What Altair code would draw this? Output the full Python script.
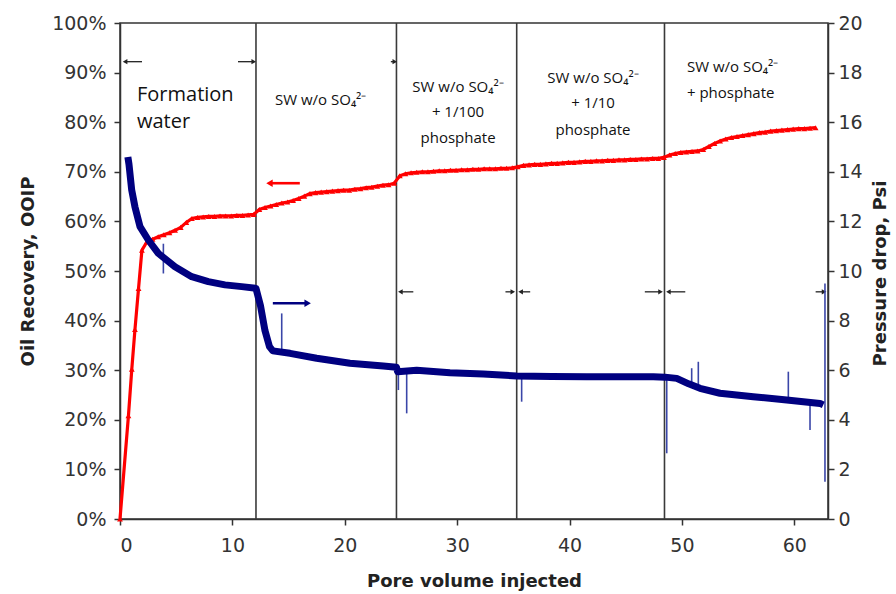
import altair as alt
import pandas as pd

# ---------------- data ----------------
# Oil recovery (fraction of OOIP) vs pore volume injected
rec_pv = [0, 0.75, 1.05, 1.33, 1.65, 1.95, 2.4, 2.9, 3.4, 3.9, 4.4, 4.9, 5.4, 5.9, 6.4, 6.9,
          7.4, 7.9, 8.4, 8.9, 9.4, 9.9, 10.4, 10.9, 11.4, 11.9, 12.4, 12.9, 13.4, 13.9, 14.4,
          14.9, 15.4, 15.9, 16.4, 16.9, 17.4, 17.9, 18.4, 18.9, 19.4, 19.9, 20.4, 20.9, 21.4,
          21.9, 22.4, 22.9, 23.4, 23.9, 24.4, 24.9, 25.4, 25.9, 26.4, 26.9, 27.4, 27.9, 28.4,
          28.9, 29.4, 29.9, 30.4, 30.9, 31.4, 31.9, 32.4, 32.9, 33.4, 33.9, 34.4, 34.9, 35.4,
          35.9, 36.4, 36.9, 37.4, 37.9, 38.4, 38.9, 39.4, 39.9, 40.4, 40.9, 41.4, 41.9, 42.4,
          42.9, 43.4, 43.9, 44.4, 44.9, 45.4, 45.9, 46.4, 46.9, 47.4, 47.9, 48.4, 48.9, 49.4,
          49.9, 50.4, 50.9, 51.4, 51.9, 52.4, 52.9, 53.4, 53.9, 54.4, 54.9, 55.4, 55.9, 56.4,
          56.9, 57.4, 57.9, 58.4, 58.9, 59.4, 59.9, 60.4, 60.9, 61.4, 61.9]
rec_frac = [0, .208, .302, .382, .465, .542, .559, .564, .569, .573, .577, .582, .588, .598, .606, .608,
            .609, .610, .610, .611, .611, .611, .612, .612, .613, .614, .624, .628, .631, .634, .637,
            .639, .642, .646, .651, .656, .658, .659, .660, .661, .662, .663, .663, .665, .666,
            .668, .669, .671, .673, .674, .677, .692, .696, .698, .699, .700, .700, .701, .702,
            .702, .703, .703, .704, .704, .705, .705, .706, .706, .706, .707, .707, .708, .710,
            .713, .714, .715, .715, .716, .717, .717, .718, .719, .719, .720, .721, .721, .722,
            .722, .723, .723, .724, .724, .725, .725, .726, .726, .727, .727, .729, .734, .737,
            .739, .740, .741, .742, .745, .751, .757, .762, .766, .769, .771, .773, .775, .777,
            .779, .780, .782, .783, .784, .785, .786, .787, .787, .788, .789]

# Pressure drop (psi) vs pore volume injected
dp_pv = [0.7, 0.8, 1.04, 1.33, 1.78, 2.52, 3.41, 4.89, 6.38, 7.86, 9.34, 10.83, 12.1, 12.5, 12.9,
         13.3, 13.6, 15.13, 17.5, 20.46, 23.43, 24.6, 24.7, 26.4, 29.36, 32.33, 35.3, 38.4,
         41.53, 44.5, 47.46, 48.5, 49.54, 50.6, 51.61, 53.39, 56.35, 59.33, 62.29, 62.58]
dp_psi = [14.6, 14.3, 13.27, 12.59, 11.79, 11.25, 10.71, 10.17, 9.77, 9.57, 9.44, 9.37, 9.3, 8.6, 7.6,
          6.95, 6.78, 6.68, 6.48, 6.28, 6.17, 6.12, 5.94, 6.0, 5.9, 5.85, 5.77, 5.75,
          5.74, 5.74, 5.74, 5.72, 5.67, 5.45, 5.27, 5.07, 4.93, 4.8, 4.66, 4.6]

# short excursions of the pressure trace
spike_pv = [3.86, 3.86, 14.39, 24.77, 25.51, 35.74, 48.65, 50.87, 51.46, 59.47, 61.4, 62.73, 62.73]
spike_base = [10.55, 10.55, 6.8, 5.95, 6.0, 5.77, 5.72, 5.5, 5.3, 4.8, 4.72, 4.6, 4.6]
spike_tip = [11.1, 9.9, 8.29, 5.2, 4.26, 4.73, 2.65, 6.08, 6.34, 5.94, 3.59, 9.5, 1.5]

# injection-phase boundaries (PV)
bound_pv = [12.1, 24.6, 35.3, 48.45]

# phase annotation texts
form_text = ["Formation", "water"]
form_pv = [1.51, 1.51]
form_frac = [0.855, 0.800]

left_text = ["SW w/o SO₄²⁻", "SW w/o SO₄²⁻", "+ phosphate"]
left_pv = [13.79, 50.45, 50.45]
left_frac = [0.845, 0.911, 0.859]

mid_text = ["SW w/o SO₄²⁻", "+ 1/100", "phosphate", "SW w/o SO₄²⁻", "+ 1/10", "phosphate"]
mid_pv = [30.08, 30.08, 30.08, 42.09, 42.09, 42.09]
mid_frac = [0.871, 0.821, 0.768, 0.889, 0.839, 0.784]

# phase-span arrows (black): shafts and heads
shaft_x1 = [0.45, 10.5, 24.1, 24.95, 34.3, 35.65, 46.7, 48.8, 61.9]
shaft_x2 = [1.96, 11.9, 24.45, 26.1, 34.95, 36.5, 48.1, 50.3, 62.65]
shaft_y = [0.922, 0.922, 0.922, 0.458, 0.458, 0.458, 0.458, 0.458, 0.458]
headL_pv = [0.45, 24.95, 35.65, 48.8]
headL_y = [0.922, 0.458, 0.458, 0.458]
headR_pv = [11.9, 24.45, 34.95, 48.1, 62.65]
headR_y = [0.922, 0.922, 0.458, 0.458, 0.458]

# series-to-axis arrows
red_arrow = {"x1": 13.5, "x2": 16.0, "y": 0.677, "head": 13.3}
blue_arrow = {"x1": 13.6, "x2": 16.5, "y": 0.435, "head": 16.7}

# ---------------- chart ----------------
XMAX = 63
x_scale = alt.Scale(domain=[0, XMAX], nice=False, zero=False)
yl_scale = alt.Scale(domain=[0, 1], nice=False)
yr_scale = alt.Scale(domain=[0, 20], nice=False)

x_axis = alt.Axis(values=[0, 10, 20, 30, 40, 50, 60], title="Pore volume injected",
                  labelPadding=11, titleY=62, titleBaseline="middle")
yl_axis = alt.Axis(values=[i / 10 for i in range(11)], format=".0%", orient="left",
                   title="Oil Recovery, OOIP", labelPadding=8,
                   titleAngle=270, titleX=-92, titleY=248, titleAlign="center",
                   titleBaseline="middle")
yr_axis = alt.Axis(values=list(range(0, 21, 2)), orient="right",
                   title="Pressure drop, Psi", labelPadding=4,
                   titleAngle=270, titleX=52, titleY=250, titleAlign="center",
                   titleBaseline="middle")


def X(field="pv"):
    return alt.X(f"{field}:Q", scale=x_scale, axis=x_axis)


def YL(field="y"):
    return alt.Y(f"{field}:Q", scale=yl_scale, axis=yl_axis)


def YR(field="y"):
    return alt.Y(f"{field}:Q", scale=yr_scale, axis=yr_axis)


rec_df = pd.DataFrame({"pv": rec_pv, "y": rec_frac})
dp_df = pd.DataFrame({"pv": dp_pv, "y": dp_psi})
spike_df = pd.DataFrame({"pv": spike_pv, "y": spike_base, "y2": spike_tip})
bound_df = pd.DataFrame({"pv": bound_pv})

bounds = alt.Chart(bound_df).mark_rule(color="#3a3a3a", strokeWidth=1.6).encode(x=X())

red_line = alt.Chart(rec_df).mark_line(color="#ff0000", strokeWidth=3.2).encode(x=X(), y=YL())
red_pts = alt.Chart(rec_df).mark_point(shape="triangle-up", filled=True, size=34,
                                       color="#ff0000", opacity=1).encode(x=X(), y=YL())

shafts = alt.Chart(pd.DataFrame({"pv": shaft_x1, "pv2": shaft_x2, "y": shaft_y})).mark_rule(
    color="#222", strokeWidth=1.3).encode(x=X(), x2="pv2:Q", y=YL())
headsL = alt.Chart(pd.DataFrame({"pv": headL_pv, "y": headL_y})).mark_point(
    shape="triangle-left", filled=True, size=28, color="#222", opacity=1).encode(x=X(), y=YL())
headsR = alt.Chart(pd.DataFrame({"pv": headR_pv, "y": headR_y})).mark_point(
    shape="triangle-right", filled=True, size=28, color="#222", opacity=1).encode(x=X(), y=YL())

ra = alt.Chart(pd.DataFrame({"pv": [red_arrow["x1"]], "pv2": [red_arrow["x2"]], "y": [red_arrow["y"]]})).mark_rule(
    color="#ff0000", strokeWidth=2.6).encode(x=X(), x2="pv2:Q", y=YL())
ra_head = alt.Chart(pd.DataFrame({"pv": [red_arrow["head"]], "y": [red_arrow["y"]]})).mark_point(
    shape="triangle-left", filled=True, size=55, color="#ff0000", opacity=1).encode(x=X(), y=YL())
ba = alt.Chart(pd.DataFrame({"pv": [blue_arrow["x1"]], "pv2": [blue_arrow["x2"]], "y": [blue_arrow["y"]]})).mark_rule(
    color="#000080", strokeWidth=2.6).encode(x=X(), x2="pv2:Q", y=YL())
ba_head = alt.Chart(pd.DataFrame({"pv": [blue_arrow["head"]], "y": [blue_arrow["y"]]})).mark_point(
    shape="triangle-right", filled=True, size=55, color="#000080", opacity=1).encode(x=X(), y=YL())

txt_form = alt.Chart(pd.DataFrame({"pv": form_pv, "y": form_frac, "t": form_text})).mark_text(
    align="left", baseline="middle", font="Open Sans", fontSize=20, color="#111").encode(
    x=X(), y=YL(), text="t:N")
txt_left = alt.Chart(pd.DataFrame({"pv": left_pv, "y": left_frac, "t": left_text})).mark_text(
    align="left", baseline="middle", font="Open Sans", fontSize=15, color="#111").encode(
    x=X(), y=YL(), text="t:N")
txt_mid = alt.Chart(pd.DataFrame({"pv": mid_pv, "y": mid_frac, "t": mid_text})).mark_text(
    align="center", baseline="middle", font="Open Sans", fontSize=15, color="#111").encode(
    x=X(), y=YL(), text="t:N")

left = alt.layer(bounds, red_line, red_pts, shafts, headsL, headsR, ra, ra_head, ba, ba_head,
                 txt_form, txt_left, txt_mid)

blue_line = alt.Chart(dp_df).mark_line(color="#000080", strokeWidth=7, strokeJoin="round").encode(
    x=X(), y=YR())
spikes = alt.Chart(spike_df).mark_rule(color="#3a46a8", strokeWidth=1.6).encode(
    x=X(), y=YR(), y2="y2:Q")

right = alt.layer(spikes, blue_line)

chart = alt.layer(left, right).resolve_scale(y="independent").properties(
    width=708, height=496,
    autosize=alt.AutoSizeParams(type="none"),
    padding={"left": 120, "top": 23, "right": 68, "bottom": 75},
    background="white",
).configure_axis(
    labelFont="DejaVu Sans", labelFontSize=19, labelColor="#333",
    titleFont="DejaVu Sans", titleFontWeight="bold", titleFontSize=18, titleColor="#222",
    domainColor="#333", domainWidth=1.5, tickColor="#333", tickWidth=1.5, tickSize=6,
    grid=False,
).configure_view(stroke="#333", strokeWidth=1.5)

chart.save("out.html", embed_options={"renderer": "svg", "actions": False})
